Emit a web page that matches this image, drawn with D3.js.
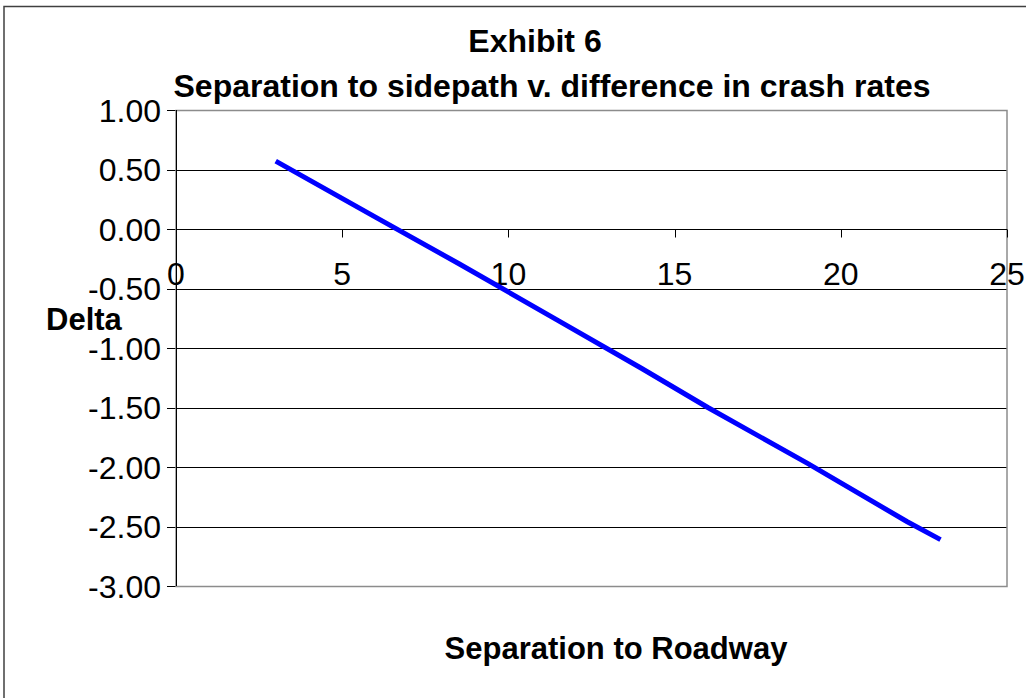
<!DOCTYPE html>
<html>
<head>
<meta charset="utf-8">
<script src="https://cdn.jsdelivr.net/npm/d3@7"></script>
<style>
  body { margin: 0; background: #fff; }
  svg { display: block; font-family: "Liberation Sans", Arial, sans-serif; }
</style>
</head>
<body>
<div id="chart"></div>
<script>
// Data
const separation = [3, 6, 8.5, 11.5, 14, 16, 19, 22, 23];
const delta = [0.57, 0.10, -0.29, -0.77, -1.17, -1.50, -1.97, -2.46, -2.61];
const xTicks = [0, 5, 10, 15, 20, 25];
const yTicks = [1, 0.5, 0, -0.5, -1, -1.5, -2, -2.5, -3];

const W = 1026, H = 698;
const plot = { left: 176, right: 1007, top: 110, bottom: 586 };

const svg = d3.select("#chart").append("svg")
    .attr("width", W)
    .attr("height", H);

// outer frame (only left/top edges fall inside the picture)
svg.append("rect")
    .attr("x", 4).attr("y", 6.5)
    .attr("width", 1200).attr("height", 900)
    .attr("fill", "none")
    .attr("stroke", "#404040")
    .attr("stroke-width", 1.5);

const x = d3.scaleLinear().domain([0, 25]).range([plot.left, plot.right]);
const y = d3.scaleLinear().domain([-3, 1]).range([plot.bottom, plot.top]);

// gridlines
svg.append("g")
    .selectAll("line")
    .data(yTicks)
    .join("line")
    .attr("x1", plot.left - 9)
    .attr("x2", plot.right)
    .attr("y1", d => Math.round(y(d)) + 0.5)
    .attr("y2", d => Math.round(y(d)) + 0.5)
    .attr("stroke", "#000")
    .attr("stroke-width", 1);

// plot border
svg.append("rect")
    .attr("x", plot.left)
    .attr("y", plot.top + 0.5)
    .attr("width", plot.right - plot.left)
    .attr("height", plot.bottom - plot.top)
    .attr("fill", "none")
    .attr("stroke", "#8c8c8c")
    .attr("stroke-width", 1.5);

// y axis line
svg.append("line")
    .attr("x1", plot.left + 0.5).attr("x2", plot.left + 0.5)
    .attr("y1", plot.top).attr("y2", plot.bottom)
    .attr("stroke", "#000");

// y tick labels
svg.append("g")
    .selectAll("text")
    .data(yTicks)
    .join("text")
    .attr("x", 161)
    .attr("y", d => y(d))
    .attr("dy", "0.36em")
    .attr("text-anchor", "end")
    .style("font-size", "32px")
    .text(d => d3.format(".2f")(d).replace("−", "-"));

// x axis at y = 0
const x0 = Math.round(y(0)) + 0.5;
svg.append("line")
    .attr("x1", plot.left).attr("x2", plot.right)
    .attr("y1", x0).attr("y2", x0)
    .attr("stroke", "#000");

svg.append("g")
    .selectAll("line")
    .data(xTicks)
    .join("line")
    .attr("x1", d => Math.round(x(d)) + 0.5)
    .attr("x2", d => Math.round(x(d)) + 0.5)
    .attr("y1", x0)
    .attr("y2", x0 + 8)
    .attr("stroke", "#000");

svg.append("g")
    .selectAll("text")
    .data(xTicks)
    .join("text")
    .attr("x", d => x(d))
    .attr("y", y(0) + 56)
    .attr("text-anchor", "middle")
    .style("font-size", "32px")
    .text(d => d);

// series line
const line = d3.line()
    .x((d, i) => x(separation[i]))
    .y(d => y(d));

svg.append("path")
    .datum(delta)
    .attr("fill", "none")
    .attr("stroke", "#0000ff")
    .attr("stroke-width", 5)
    .attr("stroke-linejoin", "round")
    .attr("d", line);

// titles
svg.append("text")
    .attr("x", 535).attr("y", 52)
    .attr("text-anchor", "middle")
    .style("font-size", "32px")
    .style("font-weight", "bold")
    .text("Exhibit 6");

svg.append("text")
    .attr("x", 552).attr("y", 97)
    .attr("text-anchor", "middle")
    .style("font-size", "32px")
    .style("font-weight", "bold")
    .text("Separation to sidepath v. difference in crash rates");

svg.append("text")
    .attr("x", 46).attr("y", 330)
    .style("font-size", "31px")
    .style("font-weight", "bold")
    .text("Delta");

svg.append("text")
    .attr("x", 616).attr("y", 659)
    .attr("text-anchor", "middle")
    .style("font-size", "31px")
    .style("font-weight", "bold")
    .text("Separation to Roadway");
</script>
</body>
</html>
